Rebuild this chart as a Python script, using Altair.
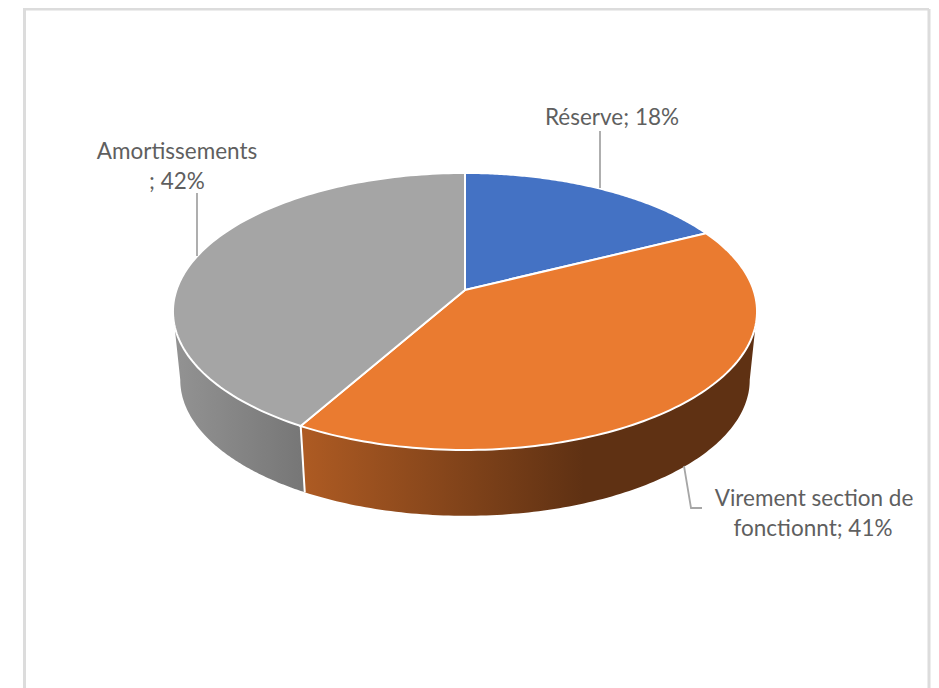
import math
import altair as alt

# Data
CATEGORIES = ["Réserve", "Virement section de fonctionnt", "Amortissements"]
VALUES = [17.6, 40.6, 41.8]
LABEL_LINES = [["Réserve; 18%"], ["Virement section de", "fonctionnt; 41%"], ["Amortissements", "; 42%"]]
TOP_COLORS = ["#4472c4", "#ea7b30", "#a5a5a5"]

# Page-space layout of the perspective pie
W, H = 923, 680
CX, CY = 465, 290
A, B, C = 135.2, 288.5, 0.155
BOTTOM_CY, BOTTOM_K = 359, 0.975


def top(t):
    u, v = math.sin(t), math.cos(t)
    d = 1 + C * v
    return [CX + B * u / d, CY - A * v / d]


def bottom(t):
    u, v = math.sin(t), math.cos(t)
    d = 1 + C * v
    return [CX + BOTTOM_K * B * u / d, BOTTOM_CY - 0.98 * A * v / d]


def arc(fn, a0, a1, n=120):
    return [fn(a0 + (a1 - a0) * i / n) for i in range(n + 1)]


def polygon(points):
    return {"type": "Feature", "properties": {},
            "geometry": {"type": "Polygon", "coordinates": [points + [points[0]]]}}


def polyline(points):
    return {"type": "Feature", "properties": {},
            "geometry": {"type": "LineString", "coordinates": points}}


total = sum(VALUES)
edges = [0.0]
for v in VALUES:
    edges.append(edges[-1] + v / total * 2 * math.pi)

right_t = math.acos(-C)
left_t = 2 * math.pi - right_t


def shape(feature, **kw):
    return alt.Chart(alt.Data(values=[feature])).mark_geoshape(**kw).project(type="identity")


def gradient(stops):
    return alt.LinearGradient(gradient="linear", x1=0, x2=1, y1=0, y2=0,
                              stops=[alt.GradientStop(offset=o, color=c) for o, c in stops])


layers = []
# Canvas polygon: makes the identity projection fit 1:1 to the page
layers.append(shape(polygon([[8, 8], [931, 8], [931, 688], [8, 688]]),
                    fill="#ffffff", stroke="#ffffff", strokeWidth=0))

# Frame
FRAME = "#dcdcdc"
for pts in ([[24.5, 8], [24.5, 688]], [[24.5, 9], [929, 9]], [[929, 9], [929, 688]]):
    layers.append(shape(polyline(pts), filled=False, stroke=FRAME, strokeWidth=3))

# Side walls
orange_wall = arc(top, right_t, edges[2]) + arc(bottom, edges[2], right_t)
gray_wall = arc(top, edges[2], left_t) + arc(bottom, left_t, edges[2])
layers.append(shape(polygon(orange_wall), strokeWidth=0,
                    fill=gradient([(0, "#ae5b23"), (0.62, "#5f3113"), (1, "#5f3113")])))
layers.append(shape(polygon(gray_wall), strokeWidth=0,
                    fill=gradient([(0, "#939393"), (1, "#767676")])))
layers.append(shape(polyline([top(edges[2]), bottom(edges[2])]), filled=False,
                    stroke="#ffffff", strokeWidth=2))

# Top faces
for i, col in enumerate(TOP_COLORS):
    pts = [[CX, CY]] + arc(top, edges[i], edges[i + 1])
    layers.append(shape(polygon(pts), fill=col, stroke="#ffffff", strokeWidth=2))

# Leader lines
LEADER = "#a6a6a6"
for pts in ([[600, 131], [600, 188]], [[197, 193], [197, 256]],
            [[684, 466], [691, 508], [702, 508]]):
    layers.append(shape(polyline(pts), filled=False, stroke=LEADER, strokeWidth=1.8))

# Labels
LABEL_POS = [[(612, 118)], [(814, 499), (813, 529)], [(177, 152), (177, 182)]]
for lines, poss in zip(LABEL_LINES, LABEL_POS):
    for txt, (x, y) in zip(lines, poss):
        layers.append(
            alt.Chart(alt.Data(values=[{"t": txt}])).mark_text(
                font="Lato", fontSize=22.5, color="#5f5f5f", align="center", baseline="middle"
            ).encode(text="t:N", x=alt.value(x - 8), y=alt.value(y - 8))
        )

chart = alt.layer(*layers).properties(
    width=W, height=H, padding=0, background="#ffffff",
    autosize=alt.AutoSizeParams(type="none"),
).configure_view(stroke=None)

chart.save("out.html", embed_options={"renderer": "svg", "actions": False})
